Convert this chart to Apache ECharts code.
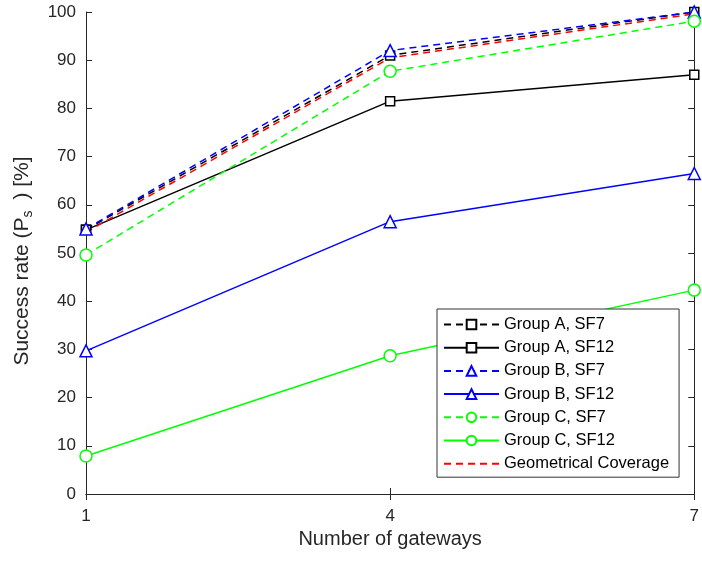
<!DOCTYPE html>
<html>
<head>
<meta charset="utf-8">
<script src="https://cdn.jsdelivr.net/npm/echarts@6/dist/echarts.min.js"></script>
<style>
  html, body { margin: 0; padding: 0; background: #fff; }
  #main { width: 702px; height: 561px; }
</style>
</head>
<body>
<div id="main"></div>
<script>
// gateways on x axis
var gateways = ['1', '4', '7'];

// success rate values, %
var groupA_SF7 = [54.8, 91.0, 100];
var groupA_SF12 = [54.8, 81.5, 87.0];
var groupB_SF7 = [55.0, 92.0, 100];
var groupB_SF12 = [29.7, 56.5, 66.5];
var groupC_SF7 = [49.6, 87.7, 98.1];
var groupC_SF12 = [7.9, 28.7, 42.3];
var geoCoverage = [54.3, 90.5, 99.6];

var names = ['Group A, SF7', 'Group A, SF12', 'Group B, SF7', 'Group B, SF12',
             'Group C, SF7', 'Group C, SF12', 'Geometrical Coverage'];

var FONT = '"Liberation Sans", Arial, Helvetica, sans-serif';
var AXIS_COLOR = '#262626';
var dash = [7, 5];

function mkSeries(name, data, color, dashed, symbol, size) {
    return {
        name: name,
        type: 'line',
        data: data,
        symbol: symbol,
        symbolSize: size,
        showSymbol: symbol !== 'none',
        clip: false,
        lineStyle: { color: color, width: 1.5, type: dashed ? dash : 'solid' },
        itemStyle: { color: '#fff', borderColor: color, borderWidth: 1.5 },
        emphasis: { disabled: true },
        animation: false
    };
}

// the coverage line has no marker, hide it in the legend too
var legendData = names.map(function (n) {
    if (n === 'Geometrical Coverage') {
        return { name: n, itemStyle: { opacity: 0 } };
    }
    return { name: n };
});

var myChart = echarts.init(document.getElementById('main'));

var option = {
    backgroundColor: '#fff',
    animation: false,
    textStyle: { fontFamily: FONT },
    grid: { left: 86, top: 12, right: 5, bottom: 67 },
    legend: {
        data: legendData,
        orient: 'vertical',
        left: 437,
        top: 309,
        backgroundColor: '#fff',
        borderColor: '#333',
        borderWidth: 1,
        borderRadius: 0,
        padding: [7, 10, 5, 6],
        itemWidth: 55,
        itemHeight: 12,
        itemGap: 6.2,
        textStyle: { fontFamily: FONT, fontSize: 16.5, lineHeight: 16, color: '#000' },
        selectedMode: false
    },
    xAxis: [{
        type: 'category',
        data: gateways,
        boundaryGap: false,
        name: 'Number of gateways',
        nameLocation: 'middle',
        nameGap: 35,
        nameTextStyle: { fontFamily: FONT, fontSize: 20, color: AXIS_COLOR },
        axisLine: { lineStyle: { color: AXIS_COLOR, width: 1 } },
        axisTick: { inside: true, length: 6, alignWithLabel: true, lineStyle: { color: AXIS_COLOR } },
        axisLabel: { fontFamily: FONT, fontSize: 17, color: AXIS_COLOR, margin: 14 },
        splitLine: { show: false }
    }, {
        type: 'category',
        data: gateways,
        boundaryGap: false,
        position: 'top',
        axisLine: { lineStyle: { color: AXIS_COLOR, width: 1 } },
        axisTick: { inside: true, length: 6, lineStyle: { color: AXIS_COLOR } },
        axisLabel: { show: false }
    }],
    yAxis: [{
        type: 'value',
        min: 0,
        max: 100,
        interval: 10,
        name: 'Success rate (P{sub|s} ) [%]',
        nameLocation: 'middle',
        nameGap: 51,
        nameTextStyle: {
            fontFamily: FONT, fontSize: 21, color: AXIS_COLOR,
            padding: [0, 16, 0, 0],
            rich: { sub: { fontFamily: FONT, fontSize: 14, color: AXIS_COLOR, padding: [12, 5, 0, 0] } }
        },
        axisLine: { show: true, lineStyle: { color: AXIS_COLOR, width: 1 } },
        axisTick: { show: true, inside: true, length: 6, lineStyle: { color: AXIS_COLOR } },
        axisLabel: { fontFamily: FONT, fontSize: 17, color: AXIS_COLOR, margin: 10 },
        splitLine: { show: false }
    }, {
        type: 'value',
        min: 0,
        max: 100,
        interval: 10,
        position: 'right',
        axisLine: { show: true, lineStyle: { color: AXIS_COLOR, width: 1 } },
        axisTick: { show: true, inside: true, length: 6, lineStyle: { color: AXIS_COLOR } },
        axisLabel: { show: false },
        splitLine: { show: false }
    }],
    series: [
        mkSeries(names[0], groupA_SF7, '#000000', true, 'rect', 9),
        mkSeries(names[1], groupA_SF12, '#000000', false, 'rect', 9),
        mkSeries(names[2], groupB_SF7, '#0000ff', true, 'triangle', 12),
        mkSeries(names[3], groupB_SF12, '#0000ff', false, 'triangle', 12),
        mkSeries(names[4], groupC_SF7, '#00ff00', true, 'circle', 12),
        mkSeries(names[5], groupC_SF12, '#00ff00', false, 'circle', 12),
        mkSeries(names[6], geoCoverage, '#ff0000', true, 'none', 0)
    ]
};

myChart.setOption(option);
</script>
</body>
</html>
